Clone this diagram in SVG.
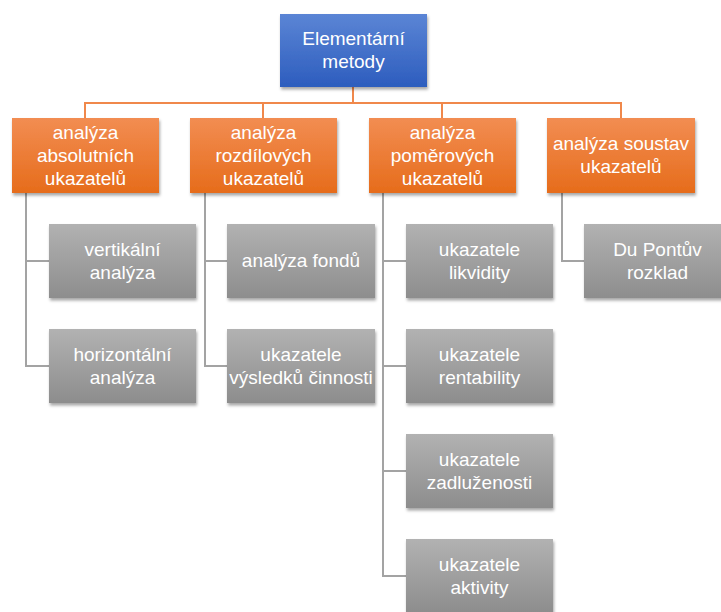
<svg xmlns="http://www.w3.org/2000/svg" width="721" height="612" viewBox="0 0 721 612">
<defs>
<linearGradient id="gBlue" x1="0" y1="0" x2="0" y2="1"><stop offset="0" stop-color="#5B85D5"/><stop offset="1" stop-color="#2D5DBE"/></linearGradient>
<linearGradient id="gOrange" x1="0" y1="0" x2="0" y2="1"><stop offset="0" stop-color="#F28D52"/><stop offset="1" stop-color="#E66C1B"/></linearGradient>
<linearGradient id="gGray" x1="0" y1="0" x2="0" y2="1"><stop offset="0" stop-color="#B2B2B2"/><stop offset="1" stop-color="#8D8D8D"/></linearGradient>
<filter id="sh" x="-10%" y="-10%" width="125%" height="135%"><feDropShadow dx="1" dy="2.5" stdDeviation="1.8" flood-color="#000" flood-opacity="0.35"/></filter>
<style>
text{font-family:"Liberation Sans",Arial,sans-serif;font-size:19px;fill:#FFFFFF;text-anchor:middle}
.blue{fill:url(#gBlue);filter:url(#sh)}
.orange{fill:url(#gOrange);filter:url(#sh)}
.gray{fill:url(#gGray);filter:url(#sh)}
.co{fill:none;stroke:#F0884B;stroke-width:2}
.cg{fill:none;stroke:#A3A3A3;stroke-width:2}
</style>
</defs>
<g id="connectors">
<path class="co" d="M353 87V103M85 118V103H621V118M263 103V118M442 103V118"/>
<path class="cg" d="M26 193V366H49M26 261H49"/>
<path class="cg" d="M205 193V366H227M205 261H227"/>
<path class="cg" d="M383 193V576H406M383 261H406M383 366H406M383 471H406"/>
<path class="cg" d="M562 193V261H584"/>
</g>
<g id="root"><rect class="blue" x="280" y="14" width="147" height="73"/><text x="353.5" y="45">Elementární</text><text x="353.5" y="68">metody</text></g>
<g id="n1"><rect class="orange" x="12" y="118" width="147" height="75"/><text x="85.5" y="138.5">analýza</text><text x="85.5" y="161.5">absolutních</text><text x="85.5" y="184.5">ukazatelů</text></g>
<g id="n2"><rect class="orange" x="190" y="118" width="147" height="75"/><text x="263.5" y="138.5">analýza</text><text x="263.5" y="161.5">rozdílových</text><text x="263.5" y="184.5">ukazatelů</text></g>
<g id="n3"><rect class="orange" x="369" y="118" width="147" height="75"/><text x="442.5" y="138.5">analýza</text><text x="442.5" y="161.5">poměrových</text><text x="442.5" y="184.5">ukazatelů</text></g>
<g id="n4"><rect class="orange" x="547" y="118" width="148" height="75"/><text x="621" y="150">analýza soustav</text><text x="621" y="173">ukazatelů</text></g>
<g id="n1a"><rect class="gray" x="49" y="224" width="147" height="74"/><text x="122.5" y="255.5">vertikální</text><text x="122.5" y="278.5">analýza</text></g>
<g id="n1b"><rect class="gray" x="49" y="329" width="147" height="74"/><text x="122.5" y="360.5">horizontální</text><text x="122.5" y="383.5">analýza</text></g>
<g id="n2a"><rect class="gray" x="227" y="224" width="148" height="74"/><text x="301" y="267">analýza fondů</text></g>
<g id="n2b"><rect class="gray" x="227" y="329" width="148" height="74"/><text x="301" y="360.5">ukazatele</text><text x="301" y="383.5">výsledků činnosti</text></g>
<g id="n3a"><rect class="gray" x="406" y="224" width="147" height="74"/><text x="479.5" y="255.5">ukazatele</text><text x="479.5" y="278.5">likvidity</text></g>
<g id="n3b"><rect class="gray" x="406" y="329" width="147" height="74"/><text x="479.5" y="360.5">ukazatele</text><text x="479.5" y="383.5">rentability</text></g>
<g id="n3c"><rect class="gray" x="406" y="434" width="147" height="74"/><text x="479.5" y="465.5">ukazatele</text><text x="479.5" y="488.5">zadluženosti</text></g>
<g id="n3d"><rect class="gray" x="406" y="539" width="147" height="74"/><text x="479.5" y="570.5">ukazatele</text><text x="479.5" y="593.5">aktivity</text></g>
<g id="n4a"><rect class="gray" x="584" y="224" width="147" height="74"/><text x="657.5" y="255.5">Du Pontův</text><text x="657.5" y="278.5">rozklad</text></g>
</svg>
